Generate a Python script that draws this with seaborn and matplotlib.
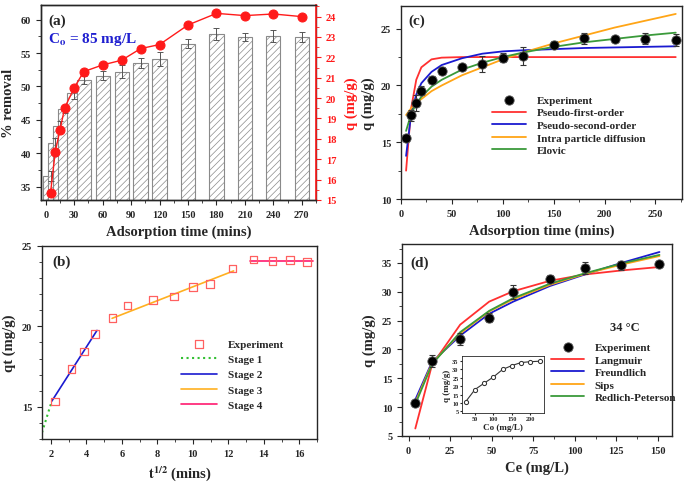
import numpy as np
import pandas as pd
import matplotlib
matplotlib.use('Agg')
import matplotlib.pyplot as plt
from matplotlib.ticker import MultipleLocator
import seaborn as sns

# Kinetic data (panels a, b, c)
time = [5, 10, 15, 20, 30, 40, 60, 80, 100, 120, 150, 180, 210, 240, 270]
removal = [36.6, 41.5, 44.1, 46.6, 49.0, 50.9, 51.6, 52.2, 53.5, 54.1, 56.4, 57.8, 57.4, 57.6, 57.4]
removal_err = [0.7, 0.8, 0.8, 0.6, 0.9, 0.6, 0.7, 1.0, 0.8, 1.0, 0.7, 0.9, 0.6, 0.9, 0.7]
q_t = [15.34, 17.37, 18.45, 19.53, 20.51, 21.30, 21.63, 21.86, 22.43, 22.63, 23.59, 24.16, 24.05, 24.13, 24.00]
q_err = [0.2, 0.5, 0.7, 0.4, 0.3, 0.3, 0.3, 0.7, 0.4, 0.8, 0.3, 0.5, 0.2, 0.5, 0.5]

# Kinetic model curves at the experimental times (panel c)
pfo = [12.5, 18.0, 20.5, 21.6, 22.3, 22.45, 22.5, 22.5, 22.5, 22.5, 22.5, 22.5, 22.5, 22.5, 22.5]
pso = [13.8, 17.5, 19.2, 20.2, 21.2, 21.8, 22.4, 22.8, 23.0, 23.1, 23.2, 23.3, 23.35, 23.4, 23.45]
ipd = [17.4, 18.0, 18.5, 18.8, 19.5, 20.0, 20.9, 21.6, 22.3, 22.9, 23.7, 24.4, 25.1, 25.7, 26.3]
elovich = [16.0, 17.5, 18.4, 19.0, 19.9, 20.5, 21.4, 22.0, 22.5, 22.9, 23.4, 23.8, 24.1, 24.4, 24.65]

# Intra-particle diffusion stages (panel b)
stage1_x, stage1_y = [1.5, 2.05], [13.4, 15.35]
stage2_x, stage2_y = [2.05, 4.6], [15.35, 19.75]
stage3_x, stage3_y = [5.45, 12.3], [20.5, 23.45]
stage4_x, stage4_y = [13.2, 16.8], [24.05, 24.05]

# Isotherm data (panel d)
ce = [4, 14, 31, 48.5, 63, 85, 106, 128, 151]
qe = [10.8, 18.0, 21.8, 25.5, 30.0, 32.3, 34.1, 34.6, 34.9]
qe_err = [0.3, 1.1, 1.0, 0.8, 1.2, 0.6, 1.0, 0.8, 0.3]
langmuir = [6.3, 17.3, 24.3, 28.3, 30.1, 31.9, 33.0, 33.7, 34.3]
freundlich = [11.3, 17.8, 22.4, 26.2, 28.3, 31.0, 33.0, 35.0, 36.9]
sips = [10.8, 17.6, 22.8, 26.6, 28.7, 31.2, 33.1, 34.7, 36.2]
redlich = [10.5, 17.4, 23.0, 26.7, 28.9, 31.4, 33.2, 34.9, 36.4]
co = [25, 50, 75, 100, 125, 150, 175, 200, 225]

sns.set_style('ticks')
plt.rcParams['font.family'] = ['Liberation Serif', 'DejaVu Serif']
plt.rcParams['font.weight'] = 'bold'
plt.rcParams['axes.labelweight'] = 'bold'
plt.rcParams['mathtext.fontset'] = 'stix'
plt.rcParams['hatch.linewidth'] = 0.5
plt.rcParams['xtick.major.size'] = 3.5
plt.rcParams['ytick.major.size'] = 3.5
plt.rcParams['xtick.minor.size'] = 2
plt.rcParams['ytick.minor.size'] = 2
plt.rcParams['axes.linewidth'] = 1.0

fig = plt.figure(figsize=(6.85, 4.85), dpi=100)
ax_a = fig.add_axes([0.0599, 0.5856, 0.4015, 0.402])
ax_c = fig.add_axes([0.5854, 0.5876, 0.410, 0.398])
ax_b = fig.add_axes([0.0613, 0.0928, 0.4015, 0.398])
ax_d = fig.add_axes([0.5869, 0.0990, 0.394, 0.396])

tick_fs = 7.5
label_fs = 10.5

# ---------- (a) ----------
sns.barplot(x=time, y=removal, ax=ax_a, native_scale=True, orient='x', width=3,
            color='white', edgecolor='#8a8a8a', hatch='/////', linewidth=0.8,
            saturation=1, errorbar=None)
ax_a.errorbar(time, removal, yerr=removal_err, fmt='none', ecolor='#555555',
              elinewidth=0.7, capsize=2, capthick=0.7)
ax_a.set_xlim(-5, 285)
ax_a.set_ylim(33, 62.2)
ax_a.xaxis.set_major_locator(MultipleLocator(30))
ax_a.xaxis.set_minor_locator(MultipleLocator(15))
ax_a.yaxis.set_major_locator(MultipleLocator(5))
ax_a.yaxis.set_minor_locator(MultipleLocator(2.5))
ax_a.set_xlabel('Adsorption time (mins)', fontsize=label_fs)
ax_a.set_ylabel('% removal', fontsize=label_fs)
ax_a.tick_params(labelsize=tick_fs, which='both')
ax_a.text(0.025, 0.923, '(a)', transform=ax_a.transAxes, fontsize=11,
          fontweight='bold', va='center')
ax_a.text(0.025, 0.826, r'C$_\mathbf{o}$ = 85 mg/L', transform=ax_a.transAxes,
          fontsize=11, fontweight='bold', color='#1f1fd0', va='center')

ax_a2 = ax_a.twinx()
sns.lineplot(x=time, y=q_t, ax=ax_a2, color='#ff1a1a', marker='o', markersize=6.5,
             markeredgecolor='#ff1a1a', linewidth=1.0)
ax_a2.set_ylim(15, 24.57)
ax_a2.yaxis.set_major_locator(MultipleLocator(1))
ax_a2.yaxis.set_minor_locator(MultipleLocator(0.5))
ax_a2.set_ylabel('q (mg/g)', fontsize=label_fs, color='#ff1a1a', labelpad=6)
ax_a2.tick_params(axis='y', which='both', colors='#ff1a1a', labelsize=tick_fs)
ax_a2.spines['right'].set_color('#ff1a1a')
ax_a2.spines['right'].set_linewidth(1.2)

# ---------- (c) ----------
ax_c.errorbar(time, q_t, yerr=q_err, fmt='none', ecolor='#333333',
              elinewidth=0.8, capsize=2, capthick=0.8, zorder=4)
sns.lineplot(x=time, y=pfo, ax=ax_c, color='#ff3030', linewidth=1.3, label='Pseudo-first-order')
sns.lineplot(x=time, y=pso, ax=ax_c, color='#1a1ad0', linewidth=1.3, label='Pseudo-second-order')
sns.lineplot(x=time, y=ipd, ax=ax_c, color='#ffa516', linewidth=1.3, label='Intra particle diffusion')
sns.lineplot(x=time, y=elovich, ax=ax_c, color='#3a9a3a', linewidth=1.3, label='Elovic')
sns.scatterplot(x=time, y=q_t, ax=ax_c, color='black', s=45, edgecolor='#555555',
                linewidth=0.6, label='Experiment', zorder=5)
ax_c.set_xlim(0, 276)
ax_c.set_ylim(10, 27)
ax_c.xaxis.set_major_locator(MultipleLocator(50))
ax_c.xaxis.set_minor_locator(MultipleLocator(25))
ax_c.yaxis.set_major_locator(MultipleLocator(5))
ax_c.yaxis.set_minor_locator(MultipleLocator(2.5))
ax_c.set_xlabel('Adsorption time (mins)', fontsize=label_fs)
ax_c.set_ylabel('q (mg/g)', fontsize=label_fs)
ax_c.tick_params(labelsize=tick_fs, which='both')
ax_c.text(0.025, 0.927, '(c)', transform=ax_c.transAxes, fontsize=11,
          fontweight='bold', va='center')
h, l = ax_c.get_legend_handles_labels()
order = [4, 0, 1, 2, 3]
ax_c.legend([h[i] for i in order], [l[i] for i in order], loc='upper left',
            bbox_to_anchor=(0.29, 0.59), frameon=False, fontsize=8,
            labelspacing=0.25, handlelength=3.0, handletextpad=1.0)

# ---------- (b) ----------
sqrt_t = np.sqrt(time)
sns.lineplot(x=stage1_x, y=stage1_y, ax=ax_b, color='#33c033', linestyle=':', linewidth=1.5, label='Stage 1')
sns.lineplot(x=stage2_x, y=stage2_y, ax=ax_b, color='#1a1ad0', linewidth=1.2, label='Stage 2')
sns.lineplot(x=stage3_x, y=stage3_y, ax=ax_b, color='#ffb020', linewidth=1.2, label='Stage 3')
sns.lineplot(x=stage4_x, y=stage4_y, ax=ax_b, color='#ff1a70', linewidth=1.2, label='Stage 4')
sns.scatterplot(x=sqrt_t, y=q_t, ax=ax_b, marker='s', s=30, facecolor='none',
                edgecolor='#ff6060', linewidth=0.9, label='Experiment', zorder=5)
ax_b.set_xlim(1.5, 17)
ax_b.set_ylim(13, 25)
ax_b.xaxis.set_major_locator(MultipleLocator(2))
ax_b.xaxis.set_minor_locator(MultipleLocator(1))
ax_b.yaxis.set_major_locator(MultipleLocator(5))
ax_b.yaxis.set_minor_locator(MultipleLocator(1))
ax_b.set_xlabel(r'$\mathbf{t^{1/2}}$ (mins)', fontsize=label_fs)
ax_b.set_ylabel('qt (mg/g)', fontsize=label_fs)
ax_b.tick_params(labelsize=tick_fs, which='both')
ax_b.text(0.036, 0.92, '(b)', transform=ax_b.transAxes, fontsize=11,
          fontweight='bold', va='center')
h, l = ax_b.get_legend_handles_labels()
ax_b.legend([h[i] for i in order], [l[i] for i in order], loc='upper left',
            bbox_to_anchor=(0.47, 0.57), frameon=False, fontsize=8,
            labelspacing=0.5, handlelength=3.2, handletextpad=1.0)

# ---------- (d) ----------
ax_d.errorbar(ce, qe, yerr=qe_err, fmt='none', ecolor='#333333',
              elinewidth=0.8, capsize=2, capthick=0.8, zorder=4)
sns.lineplot(x=ce, y=langmuir, ax=ax_d, color='#ff3030', linewidth=1.3, label='Langmuir')
sns.lineplot(x=ce, y=freundlich, ax=ax_d, color='#1a1ad0', linewidth=1.3, label='Freundlich')
sns.lineplot(x=ce, y=sips, ax=ax_d, color='#ffa516', linewidth=1.3, label='Sips')
sns.lineplot(x=ce, y=redlich, ax=ax_d, color='#3a9a3a', linewidth=1.3, label='Redlich-Peterson')
sns.scatterplot(x=ce, y=qe, ax=ax_d, color='black', s=45, edgecolor='#555555',
                linewidth=0.6, label='Experiment', zorder=5)
ax_d.set_xlim(-4, 158.5)
ax_d.set_ylim(5, 38.3)
ax_d.xaxis.set_major_locator(MultipleLocator(25))
ax_d.xaxis.set_minor_locator(MultipleLocator(12.5))
ax_d.yaxis.set_major_locator(MultipleLocator(5))
ax_d.yaxis.set_minor_locator(MultipleLocator(2.5))
ax_d.set_xlabel('Ce (mg/L)', fontsize=label_fs)
ax_d.set_ylabel('q (mg/g)', fontsize=label_fs)
ax_d.tick_params(labelsize=tick_fs, which='both')
ax_d.text(0.03, 0.906, '(d)', transform=ax_d.transAxes, fontsize=11,
          fontweight='bold', va='center')
ax_d.text(0.77, 0.57, '34 °C', transform=ax_d.transAxes, fontsize=9,
          fontweight='bold', va='center')
h, l = ax_d.get_legend_handles_labels()
ax_d.legend([h[i] for i in order], [l[i] for i in order], loc='upper left',
            bbox_to_anchor=(0.515, 0.54), frameon=False, fontsize=8,
            labelspacing=0.25, handlelength=3.0, handletextpad=0.9)

# inset
ax_in = fig.add_axes([0.6745, 0.1464, 0.1197, 0.1175])
sns.lineplot(x=co, y=qe, ax=ax_in, color='#333333', linewidth=0.8, marker='o',
             markersize=3, markerfacecolor='white', markeredgecolor='#333333')
ax_in.set_xlim(15, 237)
ax_in.set_ylim(4, 38)
ax_in.xaxis.set_major_locator(MultipleLocator(50))
ax_in.yaxis.set_major_locator(MultipleLocator(5))
ax_in.tick_params(labelsize=4.5, length=1.5, pad=1)
for s in ax_in.spines.values():
    s.set_linewidth(0.6)
ax_in.set_xlabel('Co (mg/L)', fontsize=6.5, labelpad=1)
ax_in.set_ylabel('q (mg/g)', fontsize=6.5, labelpad=1)

fig.savefig('out.png', dpi=100)
